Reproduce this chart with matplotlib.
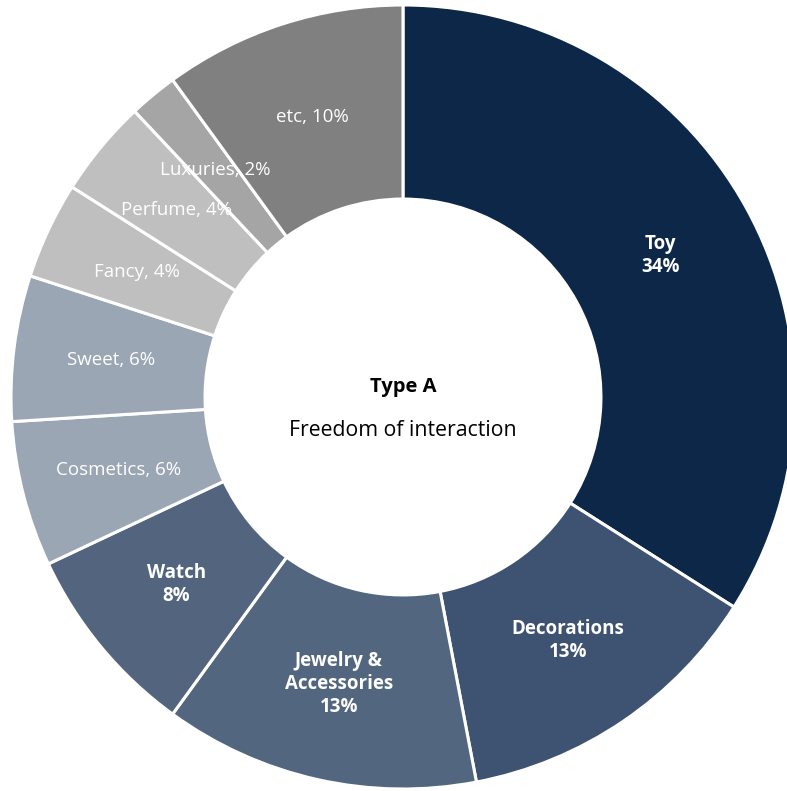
import numpy as np
import matplotlib.pyplot as plt

plt.rcParams['font.family'] = ['Open Sans', 'DejaVu Sans']

categories = ["Toy", "Decorations", "Jewelry &\nAccessories", "Watch", "Cosmetics",
              "Sweet", "Fancy", "Perfume", "Luxuries", "etc"]
shares = [34, 13, 13, 8, 6, 6, 4, 4, 2, 10]
colors = ["#0C2748", "#3E5271", "#52667F", "#52647E", "#9BA6B5",
          "#9BA6B5", "#BFBFBF", "#BFBFBF", "#A5A5A5", "#808080"]
# big slices get a bold two-line label, small ones "name, pct%"
bold_label = [True, True, True, True, False, False, False, False, False, False]

W, H = 787, 791
cx, cy = 403, H - 397
R = 392

fig = plt.figure(figsize=(W / 100, H / 100), dpi=100)
ax = fig.add_axes([0, 0, 1, 1])

wedges, _ = ax.pie(shares, colors=colors, startangle=90, counterclock=False,
                   center=(cx, cy), radius=R,
                   wedgeprops=dict(width=R * 0.495, edgecolor="white", linewidth=2.2))

for w, name, val, bold in zip(wedges, categories, shares, bold_label):
    mid = np.deg2rad((w.theta1 + w.theta2) / 2)
    r = R * 0.75
    x = cx + r * np.cos(mid)
    y = cy + r * np.sin(mid)
    if bold:
        ax.text(x, y, f"{name}\n{val}%", ha="center", va="center", color="white",
                fontsize=13.5, fontweight="bold", linespacing=1.2)
    else:
        ax.text(x, y, f"{name}, {val}%", ha="center", va="center", color="white",
                fontsize=13.5)

ax.text(cx, cy + 10, "Type A", ha="center", va="center", fontsize=14.5,
        fontweight="bold", color="black")
ax.text(cx, cy - 34, "Freedom of interaction", ha="center", va="center",
        fontsize=15.3, color="black")

ax.set_xlim(0, W)
ax.set_ylim(0, H)
ax.set_aspect("equal")
ax.axis("off")

plt.savefig("out.png", dpi=100)
plt.close()
